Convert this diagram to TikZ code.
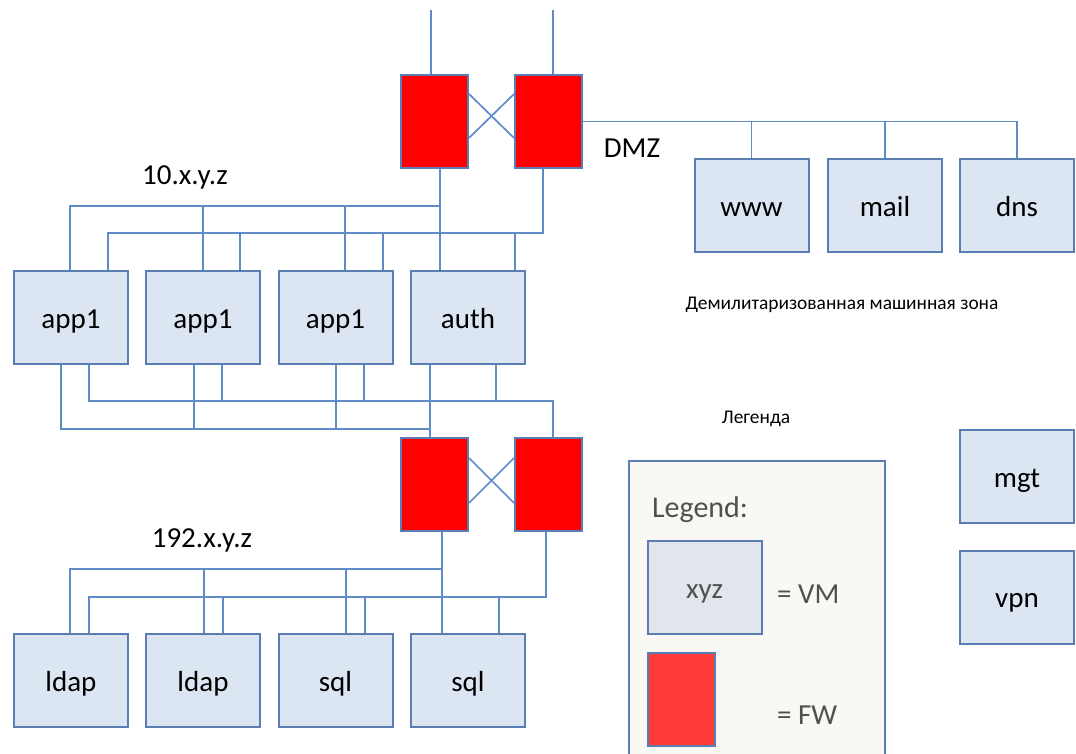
\documentclass[tikz,border=0pt]{standalone}
\usepackage{fontspec}
\setmainfont{Carlito}
\usepackage{tikz}
\definecolor{vmfill}{HTML}{DCE6F2}
\definecolor{vmline}{HTML}{5A7DB3}
\definecolor{wire}{HTML}{5F8BC6}
\definecolor{legfill}{HTML}{FAF8F4}
\definecolor{legvm}{HTML}{E2E6EC}
\definecolor{legfw}{HTML}{FF3A3A}
\definecolor{legtext}{HTML}{505050}

\begin{document}
\begin{tikzpicture}[x=0.5pt,y=-0.5pt]
    \tikzset{vm/.style = {shape=rectangle,draw=vmline,fill=vmfill,line width=1pt,minimum width=57pt,minimum height=46.5pt,inner sep=0pt,text height=2.75ex,text depth=0.45ex,font=\fontsize{14.5}{17}\selectfont}}
    \tikzset{fw/.style = {shape=rectangle,draw=vmline,fill=red,line width=1pt,minimum width=33.5pt,minimum height=46.5pt,inner sep=0pt}}
    \tikzset{wire/.style = {draw=wire,line width=0.85pt}}
    \tikzset{lbl/.style = {font=\fontsize{14.5}{17}\selectfont}}
    \tikzset{note/.style = {font=\fontsize{9.7}{12}\selectfont}}
    \useasboundingbox (0,0) rectangle (1076,754);

    % firewalls
    \node[fw] (fwA1) at (434.5,121.5) {};
    \node[fw] (fwA2) at (548.5,121.5) {};
    \node[fw] (fwB1) at (434.5,484.5) {};
    \node[fw] (fwB2) at (548.5,484.5) {};

    % dmz
    \node[vm] (www) at (751.5,205.5) {www};
    \node[vm] (mail) at (885,205.5) {mail};
    \node[vm] (dns) at (1017,205.5) {dns};

    % 10.x.y.z
    \node[vm] (app1a) at (71,317.5) {app1};
    \node[vm] (app1b) at (203,317.5) {app1};
    \node[vm] (app1c) at (335.5,317.5) {app1};
    \node[vm] (auth) at (468,317.5) {auth};

    % 192.x.y.z
    \node[vm] (ldap1) at (71,680.5) {ldap};
    \node[vm] (ldap2) at (203,680.5) {ldap};
    \node[vm] (sql1) at (335.5,680.5) {sql};
    \node[vm] (sql2) at (468,680.5) {sql};

    \node[vm] (mgt) at (1017,476.5) {mgt};
    \node[vm] (vpn) at (1017,597) {vpn};

    % labels
    \node[lbl] (dmz) at (632,148) {DMZ};
    \node[lbl] (netA) at (185,177) {10.x.y.z};
    \node[lbl] (netB) at (202,540) {192.x.y.z};
    \node[note] (dmzru) at (842,305) {Демилитаризованная машинная зона};
    \node[note] (legru) at (756,419) {Легенда};

    % legend
    \node[draw=vmline,fill=legfill,line width=1pt,minimum width=128pt,minimum height=160pt] (legend) at (757,621) {};
    \node[lbl,anchor=west,text=legtext,font=\fontsize{15}{18}\selectfont] (legtitle) at (645,510) {Legend:};
    \node[vm,fill=legvm,text=legtext] (legvmbox) at (704.5,587.5) {xyz};
    \node[lbl,anchor=west,text=legtext] (legvmtxt) at (770,594) {= VM};
    \node[fw,fill=legfw] (legfwbox) at (681,699.5) {};
    \node[lbl,anchor=west,text=legtext] (legfwtxt) at (770,715) {= FW};

    % uplinks and cross links
    \coordinate (upA) at (431,10);
    \coordinate (upB) at (553,10);
    \draw[wire] (upA) -- (fwA1.north -| upA);
    \draw[wire] (upB) -- (fwA2.north -| upB);
    \draw[wire] ([yshift=13.75pt]fwA1.east) -- ([yshift=-8.25pt]fwA2.west);
    \draw[wire] ([yshift=-8.25pt]fwA1.east) -- ([yshift=13.75pt]fwA2.west);
    \draw[wire] ([yshift=13.25pt]fwB1.east) -- ([yshift=-9.25pt]fwB2.west);
    \draw[wire] ([yshift=-9.25pt]fwB1.east) -- ([yshift=13.25pt]fwB2.west);

    % dmz bus
    \draw[wire] (fwA2.east) -| (dns.north);
    \draw[wire] (www.north) -- (www.north |- fwA2.east);
    \draw[wire] (mail.north) -- (mail.north |- fwA2.east);

    % buses above app row
    \coordinate (busA) at (70,206);
    \coordinate (busB) at (108,233);
    \draw[wire] (fwA1.south -| 440,0) -- (auth.north -| 440,0);
    \draw[wire] (busA -| 440,0) -- (busA) -- (app1a.north -| busA);
    \draw[wire] (fwA2.south -| 543,0) |- (busB) -- (app1a.north -| busB);
    \foreach \x/\n in {203/app1b, 345/app1c}
        \draw[wire] (\n.north -| \x,0) -- (busA -| \x,0);
    \foreach \x/\n in {240/app1b, 383/app1c, 515/auth}
        \draw[wire] (\n.north -| \x,0) -- (busB -| \x,0);

    % buses below app row
    \coordinate (busC) at (61,429);
    \coordinate (busD) at (89,401);
    \draw[wire] (auth.south -| 430,0) -- (fwB1.north -| 430,0);
    \draw[wire] (busC -| 430,0) -- (busC) -- (app1a.south -| busC);
    \draw[wire] (fwB2.north -| 553,0) |- (busD) -- (app1a.south -| busD);
    \foreach \x/\n in {194/app1b, 336/app1c}
        \draw[wire] (\n.south -| \x,0) -- (busC -| \x,0);
    \foreach \x/\n in {222/app1b, 364/app1c, 496/auth}
        \draw[wire] (\n.south -| \x,0) -- (busD -| \x,0);

    % buses above db row
    \coordinate (busE) at (70,569);
    \coordinate (busF) at (89,597);
    \draw[wire] (fwB1.south -| 442,0) -- (sql2.north -| 442,0);
    \draw[wire] (busE -| 442,0) -- (busE) -- (ldap1.north -| busE);
    \draw[wire] (fwB2.south -| 546,0) |- (busF) -- (ldap1.north -| busF);
    \foreach \x/\n in {204/ldap2, 346/sql1}
        \draw[wire] (\n.north -| \x,0) -- (busE -| \x,0);
    \foreach \x/\n in {223/ldap2, 365/sql1, 499/sql2}
        \draw[wire] (\n.north -| \x,0) -- (busF -| \x,0);

\end{tikzpicture}
\end{document}
